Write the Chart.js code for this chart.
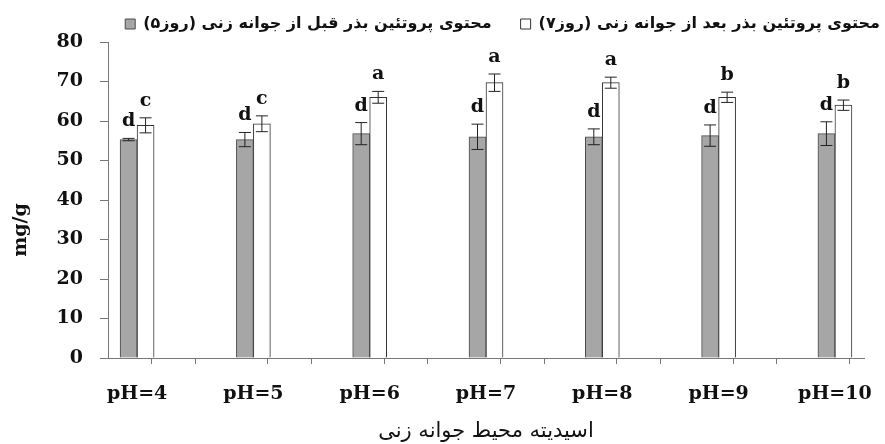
<!DOCTYPE html>
<html>
<head>
<meta charset="utf-8">
<script src="https://cdn.jsdelivr.net/npm/chart.js@4.4.0/dist/chart.umd.min.js"></script>
<style>
    html, body { margin: 0; padding: 0; background: #ffffff; }
    #wrap { width: 885px; height: 444px; }
</style>
</head>
<body>
<div id="wrap"><canvas id="chart"></canvas></div>
<script>
const phValues = [4, 5, 6, 7, 8, 9, 10];
const beforeValues = [55.3, 55.3, 56.8, 56.0, 56.0, 56.3, 56.8];
const beforeErrors = [0.3, 1.8, 2.8, 3.2, 2.0, 2.7, 3.0];
const afterValues = [58.9, 59.3, 66.0, 69.7, 69.7, 66.0, 64.0];
const afterErrors = [1.9, 2.0, 1.5, 2.2, 1.4, 1.3, 1.3];
const beforeLetters = ['d', 'd', 'd', 'd', 'd', 'd', 'd'];
const afterLetters = ['c', 'c', 'a', 'a', 'a', 'b', 'b'];
const minorTicks = [3.75, 4.25, 4.75, 5.25, 5.75, 6.25, 6.75, 7.25, 7.75, 8.25, 8.75, 9.25, 9.75, 10.25];
const yTicks = [0, 10, 20, 30, 40, 50, 60, 70, 80];

const beforeLabel = 'محتوی پروتئین بذر قبل از جوانه زنی (روز۵)';
const afterLabel = 'محتوی پروتئین بذر بعد از جوانه زنی (روز۷)';
const xTitle = 'اسیدیته محیط جوانه زنی';
const yTitle = 'mg/g';

const serifBold = "'DejaVu Serif', 'Liberation Serif', serif";
const arabicFont = "'DejaVu Sans', 'Noto Sans', sans-serif";

const errorBars = {
    id: 'errorBars',
    afterDatasetsDraw: function (chart) {
        const ctx = chart.ctx;
        const y = chart.scales.y;
        const errs = [beforeErrors, afterErrors];
        const letters = [beforeLetters, afterLetters];
        ctx.save();
        chart.data.datasets.forEach(function (ds, di) {
            const meta = chart.getDatasetMeta(di);
            meta.data.forEach(function (bar, i) {
                const v = ds.data[i].y;
                const top = y.getPixelForValue(v + errs[di][i]);
                const bottom = y.getPixelForValue(v - errs[di][i]);
                ctx.strokeStyle = '#222';
                ctx.lineWidth = 1;
                ctx.beginPath();
                ctx.moveTo(bar.x, top);
                ctx.lineTo(bar.x, bottom);
                ctx.moveTo(bar.x - 6, top);
                ctx.lineTo(bar.x + 6, top);
                ctx.moveTo(bar.x - 6, bottom);
                ctx.lineTo(bar.x + 6, bottom);
                ctx.stroke();

                ctx.fillStyle = '#111';
                ctx.font = 'bold 19px ' + serifBold;
                ctx.textAlign = 'center';
                ctx.textBaseline = 'alphabetic';
                ctx.fillText(letters[di][i], bar.x, top - 12);
            });
        });
        ctx.restore();
    }
};

// the y title sits lower than the middle of the axis in the original
const yTitlePlugin = {
    id: 'yTitle',
    afterDraw: function (chart) {
        const ctx = chart.ctx;
        const area = chart.chartArea;
        ctx.save();
        ctx.translate(21, (area.top + area.bottom) / 2 + 30);
        ctx.rotate(-Math.PI / 2);
        ctx.fillStyle = '#111';
        ctx.font = 'bold 19px ' + serifBold;
        ctx.textAlign = 'center';
        ctx.textBaseline = 'middle';
        ctx.fillText(yTitle, 0, 0);
        ctx.restore();
    }
};

function isMajor(value) {
    return phValues.includes(value);
}

const ctx = document.getElementById('chart').getContext('2d');
new Chart(ctx, {
    type: 'bar',
    data: {
        datasets: [
            {
                label: beforeLabel,
                data: phValues.map((p, i) => ({ x: p, y: beforeValues[i] })),
                backgroundColor: '#a6a6a6',
                borderColor: '#4a4a4a',
                borderWidth: 1,
                barThickness: 17
            },
            {
                label: afterLabel,
                data: phValues.map((p, i) => ({ x: p, y: afterValues[i] })),
                backgroundColor: '#ffffff',
                borderColor: '#333333',
                borderWidth: 1,
                barThickness: 17
            }
        ]
    },
    options: {
        responsive: true,
        maintainAspectRatio: false,
        animation: false,
        devicePixelRatio: 1,
        layout: {
            // legend runs wider than the plot, so the right side is trimmed by a blank axis
            padding: { left: 0, right: -24, top: -13, bottom: 0 }
        },
        plugins: {
            legend: {
                display: true,
                position: 'top',
                align: 'end',
                rtl: false,
                textDirection: 'rtl',
                labels: {
                    boxWidth: 10,
                    boxHeight: 10,
                    padding: 29,
                    color: '#111',
                    font: { family: arabicFont, size: 16, weight: 'bold' }
                }
            },
            tooltip: { enabled: false }
        },
        scales: {
            x: {
                type: 'linear',
                offset: false,
                min: 3.75,
                max: 10.25,
                afterBuildTicks: function (axis) {
                    const all = phValues.concat(minorTicks).sort((a, b) => a - b);
                    axis.ticks = all.map(v => ({ value: v }));
                },
                afterFit: function (axis) {
                    axis.height = 86;
                },
                ticks: {
                    autoSkip: false,
                    maxRotation: 0,
                    padding: 19,
                    color: '#111',
                    font: { family: serifBold, size: 19, weight: 'bold' },
                    callback: function (value) {
                        return isMajor(value) ? 'pH=' + value : '';
                    }
                },
                grid: {
                    drawOnChartArea: false,
                    tickLength: 6,
                    color: function (context) {
                        if (context.tick && isMajor(context.tick.value)) {
                            return 'rgba(0,0,0,0)';
                        }
                        return '#777';
                    }
                },
                border: { color: '#777', width: 1 },
                title: {
                    display: true,
                    text: xTitle,
                    color: '#111',
                    padding: { top: 0, bottom: 0 },
                    font: { family: arabicFont, size: 21 }
                }
            },
            y: {
                min: 0,
                max: 80,
                afterBuildTicks: function (axis) {
                    axis.ticks = yTicks.map(v => ({ value: v }));
                },
                afterFit: function (axis) {
                    axis.width = 108;
                },
                ticks: {
                    padding: 17,
                    color: '#111',
                    font: { family: serifBold, size: 19, weight: 'bold' }
                },
                grid: {
                    drawOnChartArea: false,
                    tickLength: 8,
                    color: '#777'
                },
                border: { color: '#777', width: 1 },
                title: { display: false, text: yTitle }
            },
            y2: {
                position: 'right',
                display: true,
                min: 0,
                max: 80,
                afterFit: function (axis) {
                    axis.width = 45;
                },
                ticks: { display: false },
                grid: { display: false },
                border: { display: false }
            }
        }
    },
    plugins: [errorBars, yTitlePlugin]
});
</script>
</body>
</html>
